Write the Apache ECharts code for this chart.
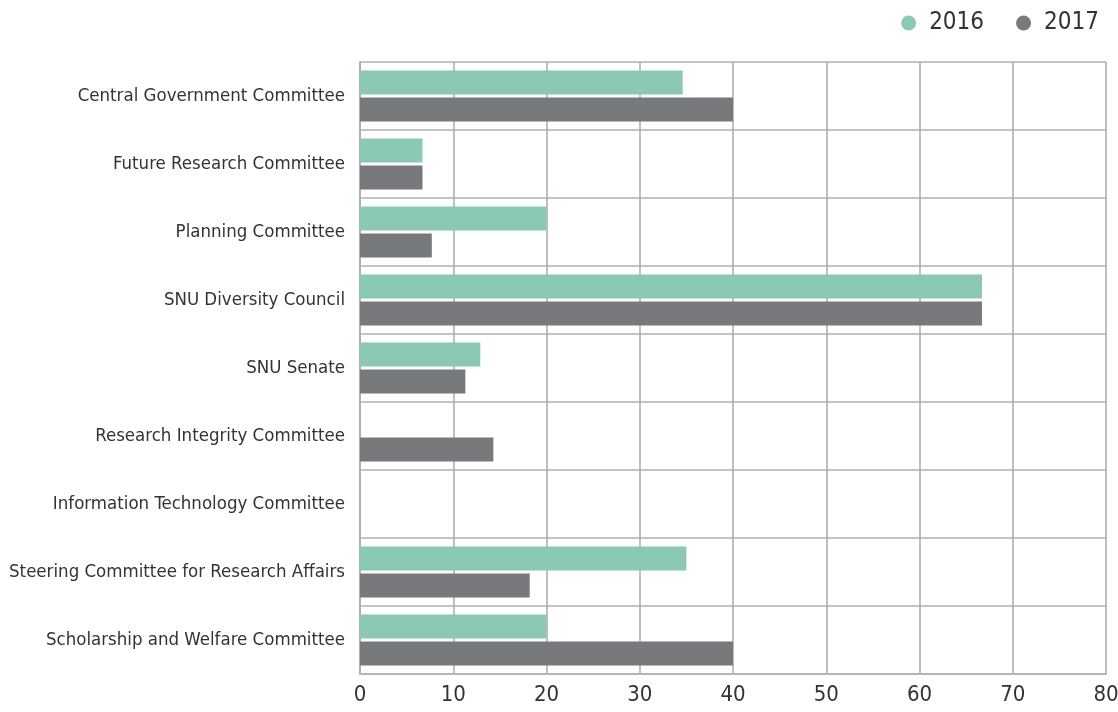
<!DOCTYPE html>
<html>
<head>
<meta charset="utf-8">
<script src="https://cdn.jsdelivr.net/npm/echarts@6/dist/echarts.min.js"></script>
<style>
html,body{margin:0;padding:0;background:#fff;}
#c{width:1118px;height:712px;}
</style>
</head>
<body>
<div id="c"></div>
<script>
var categories = [
  'Central Government Committee',
  'Future Research Committee',
  'Planning Committee',
  'SNU Diversity Council',
  'SNU Senate',
  'Research Integrity Committee',
  'Information Technology Committee',
  'Steering Committee for Research Affairs',
  'Scholarship and Welfare Committee'
];
var values2016 = [34.6, 6.7, 20, 66.7, 12.9, 0, 0, 35, 20];
var values2017 = [40, 6.7, 7.7, 66.7, 11.3, 14.3, 0, 18.2, 40];
var xTicks = [0, 10, 20, 30, 40, 50, 60, 70, 80];

var FONT = "'Liberation Sans Narrow', 'DejaVu Sans Condensed', sans-serif";
var chart = echarts.init(document.getElementById('c'));
chart.setOption({
  animation: false,
  textStyle: {fontFamily: FONT},
  legend: {
    right: 14, top: 6,
    itemWidth: 15, itemHeight: 15, itemGap: 32,
    icon: 'circle',
    textStyle: {fontSize: 24, color: '#333', fontFamily: FONT, padding: [0, 0, 0, 8]},
    data: ['2016', '2017']
  },
  grid: {left: 360, right: 12, top: 62, bottom: 38, containLabel: false, outerBoundsMode: 'none'},
  xAxis: {
    type: 'value', min: xTicks[0], max: xTicks[xTicks.length - 1], interval: 10,
    axisLine: {show: true, lineStyle: {color: '#b5b5b5', width: 2}},
    axisTick: {show: false},
    axisLabel: {fontSize: 22, color: '#333', margin: 10, fontFamily: FONT},
    splitLine: {show: true, lineStyle: {color: '#aaaaaa', width: 1.5}}
  },
  yAxis: {
    type: 'category', inverse: true, data: categories,
    axisLine: {show: true, lineStyle: {color: '#aaaaaa', width: 1.5}},
    axisTick: {show: false},
    axisLabel: {fontSize: 18.5, color: '#333', margin: 15, fontFamily: FONT},
    splitLine: {show: true, lineStyle: {color: '#c4c4c4', width: 2}}
  },
  series: [
    {name: '2016', type: 'bar', data: values2016, barWidth: 24, barGap: '12.5%',
     itemStyle: {color: '#8bc9b3'}},
    {name: '2017', type: 'bar', data: values2017, barWidth: 24, barGap: '12.5%',
     itemStyle: {color: '#78797d'}}
  ]
});
</script>
</body>
</html>
